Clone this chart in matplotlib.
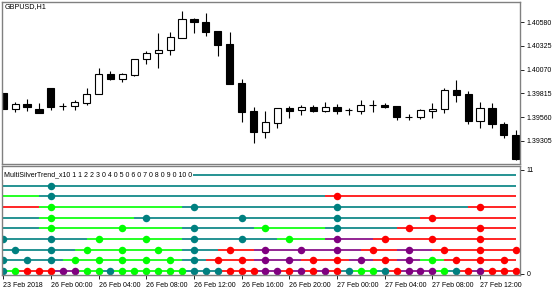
import numpy as np
import pandas as pd
import matplotlib.pyplot as plt
from matplotlib.collections import LineCollection
from matplotlib.patches import Rectangle

plt.rcParams['font.family'] = ['Liberation Sans', 'DejaVu Sans']

# GBPUSD H1, bars from 23 Feb 20:00 to 27 Feb 15:00
opens = [1.39819, 1.39647, 1.39701, 1.39647, 1.39873, 1.39679, 1.39679, 1.39712,
         1.39809, 1.40024, 1.39970, 1.40013, 1.40185, 1.40250, 1.40282, 1.40411,
         1.40616, 1.40583, 1.40486, 1.40347, 1.39927, 1.39626, 1.39400, 1.39497,
         1.39658, 1.39636, 1.39669, 1.39626, 1.39669, 1.39636, 1.39626, 1.39690,
         1.39690, 1.39679, 1.39561, 1.39561, 1.39626, 1.39647, 1.39852, 1.39809,
         1.39518, 1.39658, 1.39486, 1.39367]
highs = [1.39819, 1.39722, 1.39755, 1.39712, 1.39873, 1.39712, 1.39744, 1.39873,
         1.40088, 1.40056, 1.40035, 1.40185, 1.40271, 1.40465, 1.40476, 1.40702,
         1.40627, 1.40680, 1.40486, 1.40476, 1.39970, 1.39669, 1.39626, 1.39658,
         1.39679, 1.39690, 1.39690, 1.39722, 1.39701, 1.39658, 1.39744, 1.39744,
         1.39712, 1.39679, 1.39593, 1.39647, 1.39712, 1.39873, 1.39959, 1.39841,
         1.39722, 1.39712, 1.39507, 1.39421]
lows = [1.39647, 1.39615, 1.39626, 1.39604, 1.39636, 1.39636, 1.39636, 1.39690,
        1.39809, 1.39959, 1.39938, 1.40002, 1.40131, 1.40088, 1.40228, 1.40411,
        1.40465, 1.40433, 1.40217, 1.39916, 1.39507, 1.39281, 1.39335, 1.39443,
        1.39550, 1.39583, 1.39615, 1.39615, 1.39593, 1.39583, 1.39593, 1.39615,
        1.39658, 1.39529, 1.39529, 1.39540, 1.39550, 1.39604, 1.39722, 1.39486,
        1.39443, 1.39443, 1.39335, 1.39098]
closes = [1.39647, 1.39701, 1.39669, 1.39604, 1.39669, 1.39675, 1.39722, 1.39809,
          1.40024, 1.39970, 1.40024, 1.40185, 1.40250, 1.40282, 1.40422, 1.40616,
          1.40583, 1.40476, 1.40336, 1.39916, 1.39615, 1.39400, 1.39507, 1.39658,
          1.39626, 1.39669, 1.39626, 1.39669, 1.39626, 1.39640, 1.39690, 1.39693,
          1.39669, 1.39561, 1.39558, 1.39636, 1.39647, 1.39852, 1.39798, 1.39518,
          1.39658, 1.39486, 1.39367, 1.39109]

price_ticks = [1.40580, 1.40325, 1.40070, 1.39815, 1.39560, 1.39305]
time_tick_bars = [0, 4, 8, 12, 16, 20, 24, 28, 32, 36, 40]
time_tick_labels = ['23 Feb 2018', '26 Feb 00:00', '26 Feb 04:00', '26 Feb 08:00',
                    '26 Feb 12:00', '26 Feb 16:00', '26 Feb 20:00', '27 Feb 00:00',
                    '27 Feb 04:00', '27 Feb 08:00', '27 Feb 12:00']

# MultiSilverTrend rows, bottom to top; T teal, L lime, R red, P purple
timeframes = ['H1', 'H2', 'H3', 'H4', 'H6', 'H8', 'H12', 'D1', 'W1', 'MN1']
row_states = [
    "TLRR RPPL LTLL LLLL TTTR RRPP RPRP RTLL TRPP PLTR PRRR",
    "TTTT TTLL LLLL LLLL TTRR RRPP PPRR RRPP RRPP LLRR RRRR",
    "TTTT TTTL LLLL LLLL TTTR RRPP PPPP PPPR RRPP PRRR RRRR",
    "TTTT TTTT LLLL LLLL TTTT TTTT LLLL PPPP RRRR RRRR RRRR",
    "TTTT LLLL LLLL LLLL TTTT TTLL LLLL TTTT TTRR RRRR RRRR",
    "TTTT LLLL LLLL TTTT TTTT TTTT TTTT TTTT TTTT RRRR RRRR",
    "RRRR LLLL LLLL LLLL TTTT TTTT TTTT TTTT TTTT TTTT RRRR",
    "LLLL TTTT TTTT TTTT TTTT TTTT TTTT RRRR RRRR RRRR RRRR",
    "TTTT TTTT TTTT TTTT TTTT TTTT TTTT TTTT TTTT TTTT TTTT",
    "TTTT TTTT TTTT TTTT TTTT TTTT TTTT TTTT TTTT TTTT TTTT",
]
state_colors = {'T': '#008080', 'L': '#00FF00', 'R': '#FF0000', 'P': '#800080'}
indicator_label = 'MultiSilverTrend_x10 1 1 2 2 3 0 4 0 5 0 6 0 7 0 8 0 9 0 10 0'

times = list(pd.date_range('2018-02-23 20:00', periods=4, freq='h')) + \
    list(pd.date_range('2018-02-26 00:00', '2018-02-27 15:00', freq='h'))


def starts_tf_bar(t, tf):
    if tf.startswith('H'):
        return t.hour % int(tf[1:]) == 0
    if tf == 'D1':
        return t.hour == 0
    if tf == 'W1':
        return t.hour == 0 and t.dayofweek == 0
    return t.hour == 0 and t.day == 1


fig = plt.figure(figsize=(5.6, 2.94), dpi=100)
ax = fig.add_axes([2 / 560, 1 - 164 / 294, 518 / 560, 162 / 294])
ax2 = fig.add_axes([2 / 560, 1 - 275 / 294, 518 / 560, 109 / 294])

n = len(opens)
x = np.arange(n)
body_w = 0.6

# candles
ax.vlines(x, lows, highs, color='black', lw=0.8, zorder=1)
for i in range(n):
    o, c = opens[i], closes[i]
    bottom = min(o, c)
    h = max(abs(c - o), 0.00001)
    face = 'white' if c >= o else 'black'
    ax.add_patch(Rectangle((i - body_w / 2, bottom), body_w, h, facecolor=face,
                           edgecolor='black', lw=0.8, zorder=2))

ax.set_xlim(-0.1, 43.35)
ax.set_ylim(1.39055, 1.40798)
ax.yaxis.tick_right()
ax.set_yticks(price_ticks, ['%.5f' % p for p in price_ticks])
ax.set_xticks([])
ax.tick_params(axis='y', direction='out', length=3, width=0.6, pad=2,
               labelsize=5, colors='black')
ax.text(0.006, 0.975, 'GBPUSD,H1', transform=ax.transAxes, fontsize=5.2,
        va='center', ha='left')

# indicator panel
for r, (tf, states) in enumerate(zip(timeframes, row_states)):
    s = ''.join(states.split())
    segs = [[(k - 1, r), (k, r)] for k in range(1, n)]
    cols = [state_colors[s[k]] for k in range(1, n)]
    ax2.add_collection(LineCollection(segs, colors=cols, linewidths=1.2, zorder=1))
    for k in range(n):
        if starts_tf_bar(times[k], tf):
            ax2.plot(k, r, 'o', color=state_colors[s[k]], markersize=5.4,
                     markeredgewidth=0, zorder=2)

ax2.text(0.004, 9, indicator_label, transform=ax2.get_yaxis_transform(),
         fontsize=5, va='center', ha='left', zorder=3,
         bbox=dict(facecolor='white', edgecolor='none', pad=0.8))

ax2.set_xlim(-0.1, 43.35)
ax2.set_ylim(-0.375, 9.84)
ax2.yaxis.tick_right()
ax2.set_yticks([-0.28, 9.47], ['0', '11'])
ax2.set_xticks(time_tick_bars, time_tick_labels)
for lab in ax2.get_xticklabels():
    lab.set_horizontalalignment('left')
ax2.tick_params(axis='both', direction='out', length=3, width=0.6, pad=2,
                labelsize=5, colors='black')

for a in (ax, ax2):
    for sp in a.spines.values():
        sp.set_color('#808080')
        sp.set_linewidth(1)

fig.savefig('out.png', dpi=100, facecolor='white')
